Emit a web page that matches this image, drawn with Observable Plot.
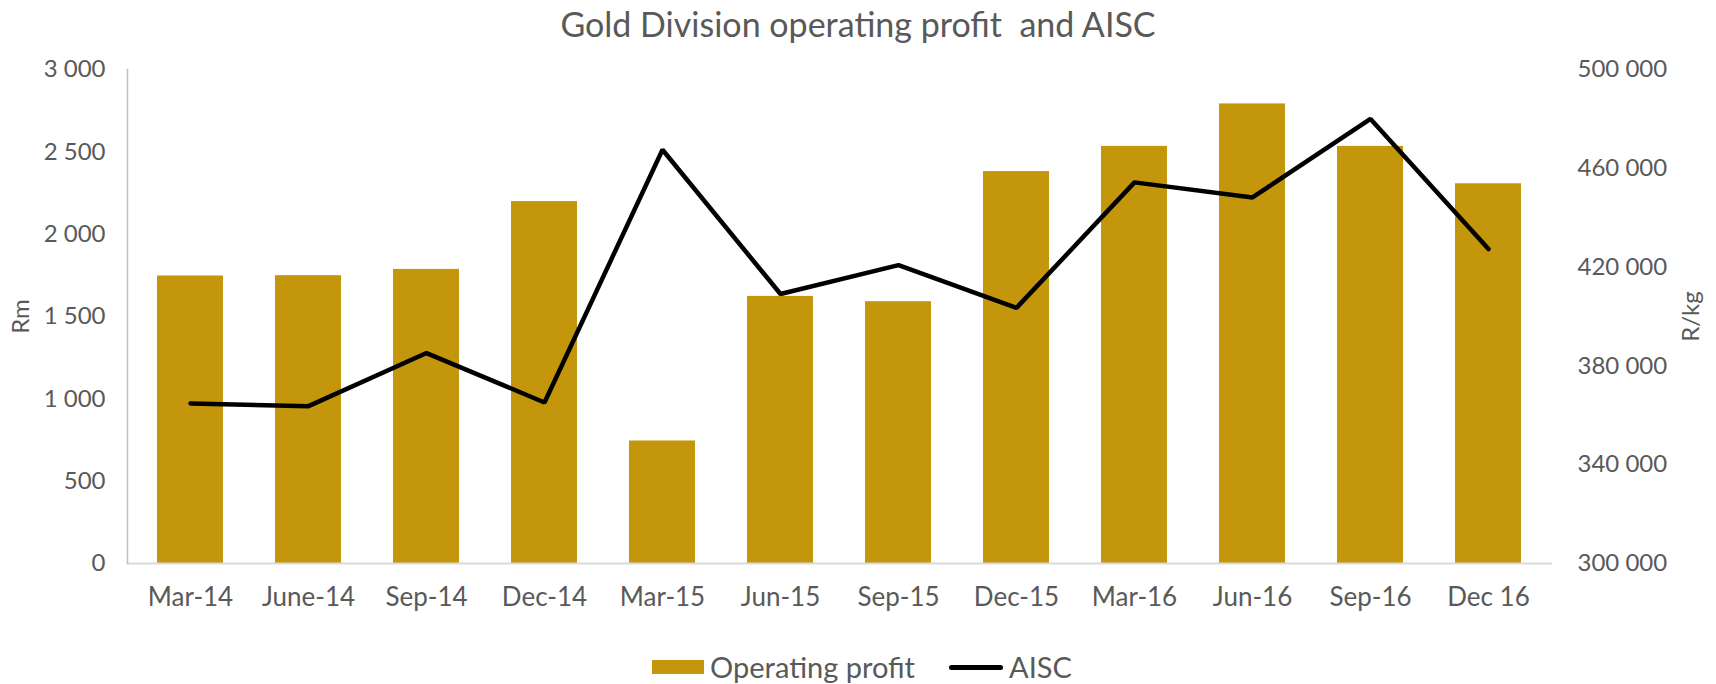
<!DOCTYPE html>
<html><head><meta charset="utf-8">
<script src="https://cdn.jsdelivr.net/npm/d3@7"></script>
<script src="https://cdn.jsdelivr.net/npm/@observablehq/plot@0.6"></script>
<style>
body{margin:0;background:#fff;font-family:Lato, sans-serif;color:#595959;width:1716px;height:684px;overflow:hidden}
#title{height:46px;line-height:48px;text-align:center;font-size:34px;white-space:pre}
#legend{display:flex;justify-content:center;align-items:center;height:34px;font-size:29px;padding-left:8px;line-height:34px}
.sw{display:inline-block;width:52px;height:14px;background:#c4960c;margin-right:6px}
.ln{display:inline-block;width:54px;height:5px;background:#000;border-radius:3px;margin-left:34px;margin-right:6px}
</style></head><body>
<div id="title">Gold Division operating profit  and AISC</div>
<div id="chart"></div>
<div id="legend"><span class="sw"></span><span>Operating profit</span><span class="ln"></span><span>AISC</span></div>
<script>
const quarters = ["Mar-14","June-14","Sep-14","Dec-14","Mar-15","Jun-15","Sep-15","Dec-15","Mar-16","Jun-16","Sep-16","Dec 16"];
const operatingProfit = [1746, 1748, 1786, 2198, 744, 1622, 1590, 2380, 2533, 2791, 2533, 2306];
const aisc = [364800, 363700, 385200, 365200, 467500, 409100, 420800, 403500, 454300, 448200, 480000, 427300];
const leftTicks = [0, 500, 1000, 1500, 2000, 2500, 3000];
const rightTicks = [300000, 340000, 380000, 420000, 460000, 500000];
const leftDomain = [0, 3000];
const rightDomain = [300000, 500000];

const toLeft = v => (v - rightDomain[0]) / (rightDomain[1] - rightDomain[0]) * (leftDomain[1] - leftDomain[0]) + leftDomain[0];
const fromLeft = v => (v - leftDomain[0]) / (leftDomain[1] - leftDomain[0]) * (rightDomain[1] - rightDomain[0]) + rightDomain[0];
const fmt = d3.formatLocale({decimal: ".", thousands: " ", grouping: [3], currency: ["", ""]}).format(",d");

const data = quarters.map((q, i) => ({q, op: operatingProfit[i], aisc: aisc[i]}));

const chart = Plot.plot({
  width: 1716, height: 604,
  marginTop: 23, marginBottom: 87, marginLeft: 127, marginRight: 164,
  style: {fontFamily: "Lato, sans-serif", fontSize: "24px", color: "#595959", background: "white", overflow: "visible"},
  x: {domain: quarters, paddingInner: 0.44, paddingOuter: 0.22, label: null},
  y: {domain: leftDomain, label: null},
  marks: [
    Plot.barY(data, {x: "q", y: "op", fill: "#c4960c"}),
    Plot.ruleY([0], {stroke: "#d9d9d9", strokeWidth: 2}),
    Plot.frame({anchor: "left", stroke: "#bfbfbf", strokeWidth: 1.5}),
    Plot.lineY(data, {x: "q", y: d => toLeft(d.aisc), stroke: "#000", strokeWidth: 4.5, strokeLinejoin: "miter", strokeLinecap: "round"}),
    Plot.axisX({tickSize: 0, tickPadding: 24, fontSize: 26}),
    Plot.axisY({ticks: leftTicks, tickSize: 0, tickPadding: 22, tickFormat: fmt, fontSize: 24,
      label: "Rm", labelAnchor: "center", labelArrow: "none", labelOffset: 116}),
    Plot.axisY({anchor: "right", ticks: rightTicks.map(toLeft), tickSize: 0, tickPadding: 25,
      tickFormat: v => fmt(Math.round(fromLeft(v))), fontSize: 24,
      label: "R/kg", labelAnchor: "center", labelArrow: "none", labelOffset: 146})
  ]
});
document.getElementById("chart").appendChild(chart);
</script>
</body></html>
